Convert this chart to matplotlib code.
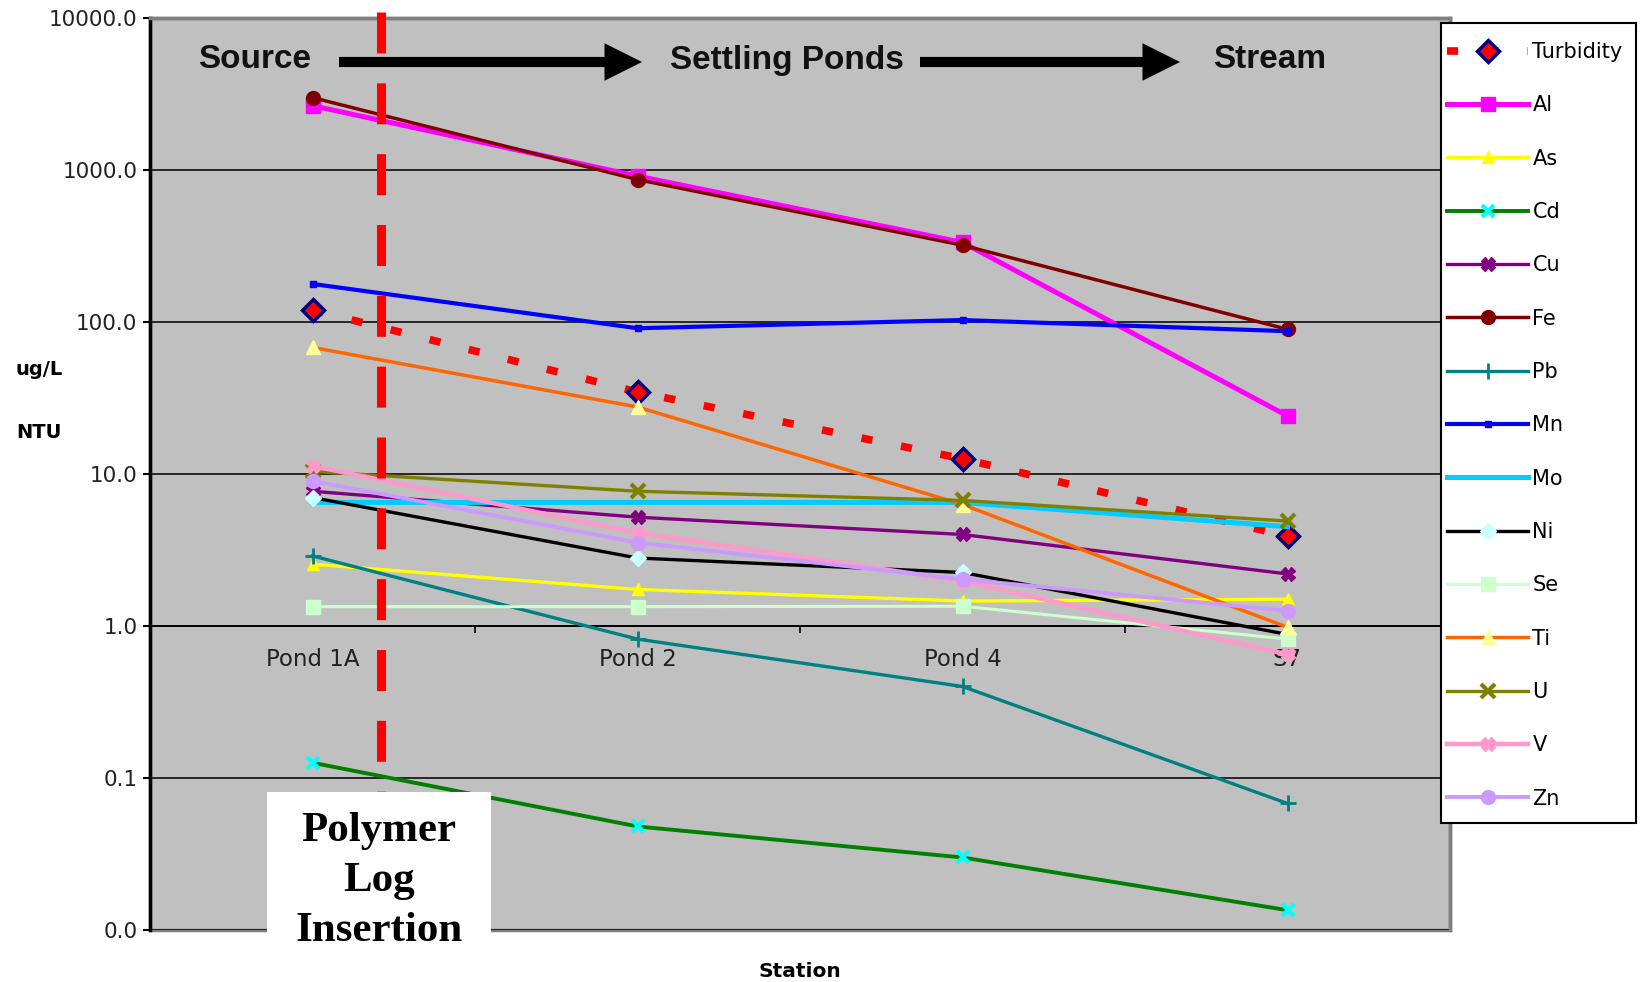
import numpy as np
import matplotlib.pyplot as plt
from matplotlib.patches import Rectangle
from matplotlib.ticker import FixedLocator, FormatStrFormatter, NullLocator

plt.rcParams['lines.scale_dashes'] = False

# values (ug/L, turbidity in NTU)
stations = ['Pond 1A', 'Pond 2', 'Pond 4', 'S7']
turbidity = [120, 34.6, 12.6, 3.9]
al = [2650, 912, 334, 24.1]
as_ = [2.55, 1.74, 1.46, 1.5]
cd = [0.126, 0.048, 0.030, 0.0135]
cu = [7.7, 5.2, 4.0, 2.2]
fe = [2995, 865, 320, 89.5]
pb = [2.89, 0.82, 0.40, 0.068]
mn = [178, 91, 103, 87]
mo = [6.5, 6.5, 6.5, 4.5]
ni = [7.0, 2.8, 2.25, 0.88]
se = [1.34, 1.34, 1.35, 0.82]
ti = [68, 27.6, 6.3, 0.98]
u = [10.4, 7.7, 6.7, 4.9]
v = [11.3, 4.1, 1.98, 0.65]
zn = [9.0, 3.54, 2.03, 1.26]

series = [
    ('Turbidity', turbidity, dict(color='red', lw=5.5, ls=(0, (8, 21)), dash_capstyle='butt',
                                  marker='D', ms=11, mfc='red', mec='#000080', mew=2.5)),
    ('Al', al, dict(color='#FF00FF', lw=3.6, marker='s', ms=10)),
    ('As', as_, dict(color='#FFFF00', lw=2.4, marker='^', ms=9)),
    ('Cd', cd, dict(color='#008000', lw=2.8, marker='x', ms=8, mec='#00FFFF', mew=3)),
    ('Cu', cu, dict(color='#800080', lw=2.4, marker='X', ms=10)),
    ('Fe', fe, dict(color='#800000', lw=2.5, marker='o', ms=10)),
    ('Pb', pb, dict(color='#008080', lw=2.4, marker='+', ms=11, mew=2)),
    ('Mn', mn, dict(color='#0000FF', lw=3.0, marker='s', ms=4)),
    ('Mo', mo, dict(color='#00CCFF', lw=3.6)),
    ('Ni', ni, dict(color='black', lw=2.4, marker='D', ms=8, mfc='#CCFFFF', mec='#CCFFFF')),
    ('Se', se, dict(color='#CCFFCC', lw=2.2, marker='s', ms=10)),
    ('Ti', ti, dict(color='#FF6600', lw=2.5, marker='^', ms=10, mfc='#FFFF99', mec='#FFFF99')),
    ('U', u, dict(color='#808000', lw=2.4, marker='x', ms=10, mew=3)),
    ('V', v, dict(color='#FF99CC', lw=3.2, marker='X', ms=10)),
    ('Zn', zn, dict(color='#CC99FF', lw=2.8, marker='o', ms=10)),
]

W, H = 1644, 982
fig = plt.figure(figsize=(W / 100, H / 100), dpi=100)
ax = fig.add_axes([150 / W, 52 / H, 1300 / W, 912 / H])
ax.set_facecolor('#C0C0C0')
ax.patch.set_edgecolor('#808080')
ax.patch.set_linewidth(2.5)

x = np.arange(len(stations))
handles = []
for name, vals, style in series:
    ln, = ax.plot(x, vals, label=name, zorder=3, **style)
    handles.append(ln)

ax.set_yscale('log')
ax.set_ylim(0.01, 10000)
ax.set_xlim(-0.5, 3.5)
ax.yaxis.set_major_locator(FixedLocator([0.01, 0.1, 1, 10, 100, 1000, 10000]))
ax.yaxis.set_major_formatter(FormatStrFormatter('%.1f'))
ax.yaxis.set_minor_locator(NullLocator())
ax.grid(axis='y', which='major', color='#1a1a1a', lw=1.3)
ax.set_axisbelow(True)
ax.tick_params(axis='y', direction='out', length=5, width=1.5, labelsize=15.5,
               labelcolor='#222222', pad=4)

# category axis crosses at 1.0
ax.spines['bottom'].set_position(('data', 1.0))
ax.spines['bottom'].set_linewidth(1.3)
ax.spines['left'].set_linewidth(2.5)
for s in ('top', 'right'):
    ax.spines[s].set_color('#808080')
    ax.spines[s].set_linewidth(2.5)
ax.set_xticks([0.5, 1.5, 2.5])
ax.set_xticklabels(['', '', ''])
ax.set_xticks(x, minor=True)
ax.set_xticklabels(stations, minor=True)
ax.tick_params(axis='x', which='major', direction='out', length=5, width=1.2)
ax.tick_params(axis='x', which='minor', length=0, pad=16, labelsize=16.5, labelcolor='#222222')

ax.set_ylabel('ug/L\nNTU', rotation=0, fontsize=14, fontweight='bold', linespacing=3.9,
              ha='center', va='center')
ax.yaxis.set_label_coords(-0.0854, 0.58)
ax.set_xlabel('Station', fontsize=14.5, fontweight='bold', va='center')
ax.xaxis.set_label_coords(0.5, -0.045)

# polymer log insertion marker
ax.plot([0.21, 0.21], [1.007, 0.151], transform=ax.get_xaxis_transform(), clip_on=False,
        color='red', lw=6.5, ls=(0, (29.5, 21.5)), dash_capstyle='butt', zorder=6)

# legend box drawn separately so its padding can differ by side
fig.add_artist(Rectangle((1441 / W, 1 - 823 / H), 195 / W, 800 / H, transform=fig.transFigure,
                         fc='white', ec='black', lw=1.5, zorder=8))
leg = fig.legend(handles, [h.get_label() for h in handles], loc='upper left',
                 bbox_to_anchor=(1447 / W, 1 - 42 / H), bbox_transform=fig.transFigure,
                 fontsize=15, frameon=False, labelspacing=1.6, handlelength=3.9,
                 handletextpad=0.2, borderpad=0, borderaxespad=0)
leg.set_zorder(9)

# flow annotations along the top
for label, cx in [('Source', 255), ('Settling Ponds', 787), ('Stream', 1270)]:
    fig.text(cx / W, 1 - 60 / H, label, ha='center', va='center', fontsize=24,
             fontweight='bold', family='Liberation Sans', color='#111111')
for x0, x1 in [(339, 642), (920, 1180)]:
    ax.annotate('', xy=(x1, H - 62), xytext=(x0, H - 62), xycoords='figure pixels',
                arrowprops=dict(arrowstyle='simple,head_length=1,head_width=1,tail_width=0.27',
                                mutation_scale=27, fc='black', ec='black', lw=0,
                                shrinkA=0, shrinkB=0))

fig.add_artist(Rectangle((267 / W, 1 - 980 / H), 224 / W, 188 / H, transform=fig.transFigure,
                         fc='white', ec='none', zorder=5))
fig.text(379 / W, 1 - 881 / H, 'Polymer\nLog\nInsertion', ha='center', va='center',
         fontsize=31, fontweight='bold', family='Liberation Serif', linespacing=1.42, zorder=6)

fig.savefig('out.png', dpi=100)
